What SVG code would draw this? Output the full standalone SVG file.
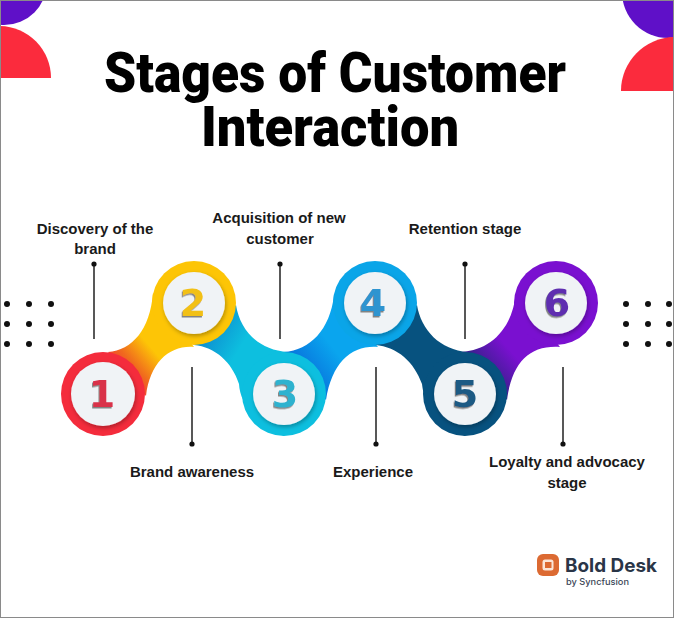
<svg xmlns="http://www.w3.org/2000/svg" width="674" height="618" viewBox="0 0 674 618">
<style>
.title{font-family:"Roboto","Liberation Sans",sans-serif;font-weight:900;font-size:56px;fill:#000;text-anchor:middle}
.lbl{font-family:"Liberation Sans",Arial,sans-serif;font-weight:700;font-size:15px;fill:#1a1a1a;text-anchor:middle}
.num{font-family:"DejaVu Sans",sans-serif;font-weight:700;font-size:38px;text-anchor:middle;filter:url(#ts)}
.inner{fill:#f0f3f6;filter:url(#cs)}
.ln{stroke:#222;stroke-width:1.5;fill:none}
.dot{fill:#111}
.gd{fill:#111}
</style>
<defs>
<filter id="cs" x="-30%" y="-30%" width="160%" height="160%"><feDropShadow dx="1" dy="2" stdDeviation="2" flood-color="#000" flood-opacity=".3"/></filter>
<filter id="ts" x="-30%" y="-30%" width="160%" height="160%"><feDropShadow dx="-1" dy="1.5" stdDeviation=".4" flood-color="#777" flood-opacity=".9"/></filter>
<linearGradient id="g12" gradientUnits="userSpaceOnUse" x1="118" y1="380" x2="165" y2="340"><stop offset="0" stop-color="#f42c3c"/><stop offset=".35" stop-color="#f0691e"/><stop offset=".75" stop-color="#fdc506"/></linearGradient>
<linearGradient id="g23" gradientUnits="userSpaceOnUse" x1="205" y1="335" x2="250" y2="362"><stop offset="0" stop-color="#0e8fd0"/><stop offset=".7" stop-color="#0dbfdf"/></linearGradient>
<linearGradient id="g34" gradientUnits="userSpaceOnUse" x1="300" y1="370" x2="345" y2="335"><stop offset="0" stop-color="#0872dc"/><stop offset=".7" stop-color="#0aa5ee"/></linearGradient>
<linearGradient id="g56" gradientUnits="userSpaceOnUse" x1="485" y1="370" x2="525" y2="335"><stop offset="0" stop-color="#3c1f90"/><stop offset=".6" stop-color="#7a10d0"/></linearGradient>
</defs>
<rect width="674" height="618" fill="#fff"/>
<g id="corners">
<circle cx="4" cy="-18" r="43" fill="#5f10c8"/>
<path d="M0 26A52 52 0 0 1 51 78H0Z" fill="#fb2b3d"/>
<circle cx="668" cy="-8" r="46" fill="#5f10c8"/>
<path d="M674 37A54 54 0 0 0 621 91H674Z" fill="#fb2b3d"/>
</g>
<g id="title">
<text class="title" x="335" y="92" textLength="462" lengthAdjust="spacingAndGlyphs">Stages of Customer</text>
<text class="title" x="330" y="146" textLength="258" lengthAdjust="spacingAndGlyphs">Interaction</text>
</g>
<g id="dots-left" class="gd">
<circle cx="7" cy="304" r="3"/><circle cx="29" cy="304" r="3"/><circle cx="51" cy="304" r="3"/>
<circle cx="7" cy="324" r="3"/><circle cx="29" cy="324" r="3"/><circle cx="51" cy="324" r="3"/>
<circle cx="7" cy="344" r="3"/><circle cx="29" cy="344" r="3"/><circle cx="51" cy="344" r="3"/>
</g>
<g id="dots-right" class="gd">
<circle cx="626" cy="304" r="3"/><circle cx="648" cy="304" r="3"/><circle cx="669" cy="304" r="3"/>
<circle cx="626" cy="324" r="3"/><circle cx="648" cy="324" r="3"/><circle cx="669" cy="324" r="3"/>
<circle cx="626" cy="344" r="3"/><circle cx="648" cy="344" r="3"/><circle cx="669" cy="344" r="3"/>
</g>
<g id="ribbon">
<path d="M108 352C132 350 150 330 153 293L194 347C170 345 150 362 146 396Z" fill="url(#g12)"/>
<path d="M236 305C240 330 258 350 288 352L284 436C250 420 240 400 239 384C232 362 215 347 194 345Z" fill="url(#g23)"/>
<path d="M284 352C310 350 330 330 334 295L378 347C352 345 332 362 326 400Z" fill="url(#g34)"/>
<path d="M417 305C421 330 440 350 468 352L465 436C432 420 424 402 422 384C414 362 398 347 375 345Z" fill="#07527f"/>
<path d="M462 352C490 350 512 330 516 293L560 347C530 345 512 362 507 400Z" fill="url(#g56)"/>
</g>
<g id="connectors">
<path class="ln" d="M94 264V339M280 264V339M465 264V339M192 367V444M376 367V444M563 367V444"/>
<circle class="dot" cx="94" cy="264" r="2.6"/><circle class="dot" cx="280" cy="264" r="2.6"/><circle class="dot" cx="465" cy="264" r="2.6"/>
<circle class="dot" cx="192" cy="444" r="2.6"/><circle class="dot" cx="376" cy="444" r="2.6"/><circle class="dot" cx="563" cy="444" r="2.6"/>
</g>
<g id="node2"><circle cx="194" cy="303" r="42" fill="#fdc506"/><circle class="inner" cx="194" cy="303" r="31"/><text class="num" x="193" y="316" fill="#f2c019">2</text></g>
<g id="node1"><circle cx="103" cy="394" r="42" fill="#f42c3c"/><circle class="inner" cx="103" cy="394" r="32"/><text class="num" x="102" y="407" fill="#d9304a">1</text></g>
<g id="node4"><circle cx="375" cy="303" r="42" fill="#0aa5e8"/><circle class="inner" cx="375" cy="303" r="31"/><text class="num" x="373" y="316" fill="#2f94d0">4</text></g>
<g id="node3"><circle cx="284" cy="394" r="42" fill="#0dbfdf"/><circle class="inner" cx="284" cy="394" r="31"/><text class="num" x="285" y="407" fill="#2fb2cf">3</text></g>
<g id="node6"><circle cx="556" cy="303" r="42" fill="#7a10d0"/><circle class="inner" cx="556" cy="303" r="31"/><text class="num" x="557" y="316" fill="#5f2fb0">6</text></g>
<g id="node5"><circle cx="465" cy="394" r="42" fill="#07527f"/><circle class="inner" cx="465" cy="394" r="31"/><text class="num" x="465" y="407" fill="#1c5a84">5</text></g>
<g id="labels">
<text class="lbl" x="95" y="234">Discovery of the</text><text class="lbl" x="95" y="254">brand</text>
<text class="lbl" x="279" y="223">Acquisition of new</text><text class="lbl" x="280" y="244">customer</text>
<text class="lbl" x="465" y="234">Retention stage</text>
<text class="lbl" x="192" y="477">Brand awareness</text>
<text class="lbl" x="373" y="477">Experience</text>
<text class="lbl" x="567" y="467">Loyalty and advocacy</text><text class="lbl" x="567" y="488">stage</text>
</g>
<g id="logo">
<rect x="537" y="554" width="22" height="22" rx="6" fill="#dc6a32"/>
<rect x="542.500" y="559.500" width="11" height="11" rx="2.500" fill="#fbe6d8"/>
<rect x="545" y="562" width="6.500" height="6" fill="#dc6a32"/>
<text x="565" y="572" font-family="Inter,'Liberation Sans',sans-serif" font-weight="700" font-size="18.500" fill="#2a3547" textLength="92" lengthAdjust="spacingAndGlyphs">Bold Desk</text>
<text x="566" y="585" font-family="Inter,'Liberation Sans',sans-serif" font-weight="500" font-size="9" fill="#3b4657" textLength="63" lengthAdjust="spacingAndGlyphs">by Syncfusion</text>
</g>
<rect x=".5" y=".5" width="673" height="617" fill="none" stroke="#8a8a8a"/>
</svg>
